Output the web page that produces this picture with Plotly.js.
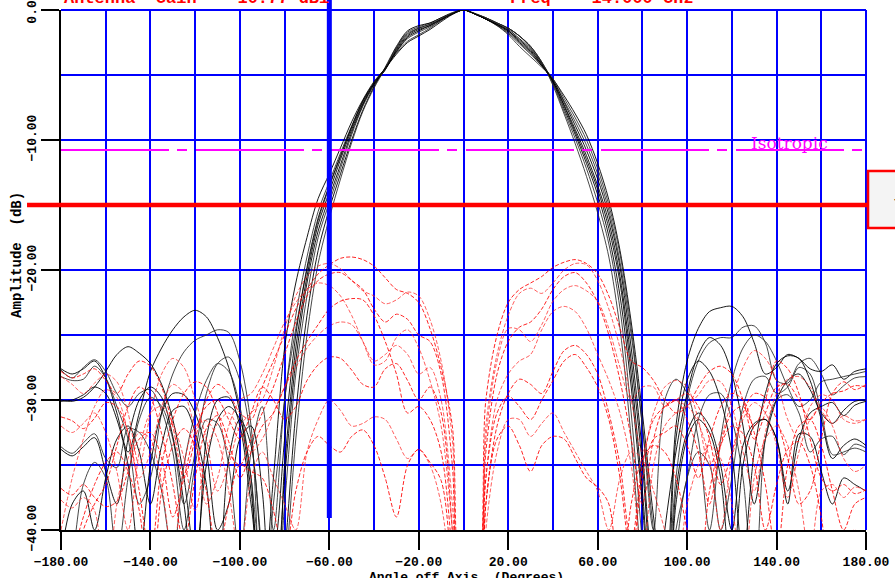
<!DOCTYPE html>
<html>
<head>
<meta charset="utf-8">
<script src="https://cdn.plot.ly/plotly-3.0.1.min.js"></script>
<style>html,body{margin:0;padding:0;background:#fff;overflow:hidden}</style>
</head>
<body>
<div id="chart" style="width:895px;height:578px"></div>
<script>
// Azimuth cut angles (degrees off boresight)
const angles = [-180,-175,-170,-165,-160,-155,-150,-145,-140,-135,-130,-125,-120,-115,-110,-105,-100,-95,-90,-85,-80,-75,-70,-65,-60,-55,-50,-45,-40,-35,-30,-25,-20,-15,-10,-5,0,5,10,15,20,25,30,35,40,45,50,55,60,65,70,75,80,85,90,95,100,105,110,115,120,125,130,135,140,145,150,155,160,165,170,175,180];

// Co-polar patterns (dB, normalised to peak)
const coPol1 = [-27.6,-28.0,-27.6,-27.0,-28.3,-31,-34,-31,-27.8,-26.0,-24.6,-23.6,-23.1,-23.6,-25.2,-27.5,-31,-37,-45, -36,-26,-21,-17.5,-14.5,-12.6,-10.6,-8.6,-6.9,-5.5,-4.5,-3.4,-2.5,-2.0,-1.5,-0.9,-0.35, 0, -0.3,-0.7,-1.1,-1.6,-2.4,-3.2,-4.2, -5.3,-6.6,-8.0,-9.6,-11.8,-14.6,-18.5,-24,-31,-39, -45,-32,-27,-24.5,-23.2,-22.9,-22.8,-23.6,-25.6,-28,-27.5,-26.5,-26.8,-27.6,-27.8,-27.3,-28.4,-27.8,-27.6];
const coPol2 = [-28.2,-28.5,-28.4,-27.4,-28.3,-30.5,-33,-38,-36,-31,-28,-26.3,-25.4,-25,-24.6,-24.8,-27,-32,-46, -38,-30,-23.5,-19,-15.5,-13.2,-11,-8.9,-7.0,-5.6,-4.5,-3.2,-2.2,-1.7,-1.3,-0.8,-0.3, 0, -0.3,-0.7,-1.2,-1.8,-2.6,-3.4,-4.3, -5.4,-7.0,-8.6,-10.4,-12.6,-15.4,-19.4,-25,-32,-40, -46,-36,-30,-27,-25.6,-25.2,-25.2,-24.4,-24.3,-25.6,-28.5,-28.7,-27.2,-26.8,-28,-29.6,-28.9,-28.3,-28.2];
const coPol3 = [-30.0,-30.1,-29.8,-29.0,-27.8,-26.5,-25.9,-26.4,-27.2,-28.8,-31.5,-36,-42,-35,-31.5,-30.5,-31.5,-36,-45, -45,-35,-26,-20.5,-16.5,-14,-11.5,-9.2,-7.2,-5.7,-4.6,-3.0,-1.9,-1.4,-1.1,-0.7,-0.3, 0, -0.3,-0.7,-1.1,-1.5,-2.2,-3.0,-4.1, -5.6,-7.6,-9.6,-11.8,-14.2,-17.4,-22,-29,-38,-48, -40,-34,-29.5,-26.5,-25.2,-25.8,-28,-32,-38,-33,-30,-28.5,-28,-29.2,-31,-31.8,-30.8,-30.1,-30];
const coPol4 = [-33.6,-34.1,-33.3,-32.6,-34.5,-35.2,-32.2,-32.5,-34,-37,-42,-35,-31,-28.5,-27.2,-27.8,-30.5,-36,-44, -48,-38,-28,-22,-17.5,-14.8,-12.2,-9.6,-7.4,-5.8,-4.5,-2.9,-1.7,-1.3,-1.0,-0.6,-0.25, 0, -0.3,-0.6,-1.0,-1.4,-2.0,-2.9,-4.1, -5.7,-7.8,-9.9,-12.2,-14.8,-18,-23,-31,-41,-50, -48,-40,-36,-31.5,-29.6,-29.5,-31.5,-36,-45,-33,-30,-29.6,-31,-34,-33,-32.8,-34.2,-33.4,-33.7];
const coPol5 = [-30.1,-30.0,-29.6,-29.0,-29.5,-31.5,-35,-42,-35,-31,-29.5,-29.6,-31,-34,-40,-38,-33,-32,-37, -50,-42,-31,-23.5,-18.5,-15.3,-12.6,-10,-7.7,-5.9,-4.4,-2.8,-1.6,-1.2,-1.0,-0.6,-0.2, 0, -0.25,-0.6,-1.0,-1.4,-2.0,-2.8,-4.0, -5.5,-7.3,-9.2,-11.2,-13.5,-16.3,-20.5,-27,-35,-45, -48,-38,-33,-31.5,-32.5,-36,-44,-35,-32,-31.5,-33,-37,-33,-31,-30.5,-30.2,-31.2,-30.4,-30.1];
const coPol6 = [-27.7,-28.3,-27.5,-26.9,-27.8,-29.5,-30.5,-29.5,-29.2,-30.8,-34,-40,-35,-31.5,-31.8,-35,-42,-34,-30.5, -40,-30,-24.5,-20,-16.2,-13.6,-11.3,-9,-7.1,-5.6,-4.5,-3.3,-2.4,-1.9,-1.4,-0.8,-0.3, 0, -0.3,-0.7,-1.2,-1.9,-2.8,-3.6,-4.4, -5.3,-6.8,-8.3,-10,-12.2,-15,-18.8,-24.5,-32,-40, -30,-28.4,-29.5,-33,-40,-33,-28.5,-26,-25,-25.5,-27,-29,-30.5,-30,-28.6,-28.4,-28.2,-28.0,-27.8];
const coPol7 = [-42,-38,-37,-40,-36,-33,-32,-34,-38,-33.5,-30.8,-30.5,-32.5,-36.5,-45,-34.5,-31.5,-33.5,-42, -46,-36,-27,-21,-17,-14.4,-11.9,-9.4,-7.3,-5.7,-4.6,-3.1,-2.0,-1.5,-1.2,-0.7,-0.3, 0, -0.3,-0.7,-1.1,-1.6,-2.3,-3.1,-4.2, -5.5,-7.4,-9.4,-11.5,-13.8,-16.8,-21,-28,-37,-47, -50,-37,-32.5,-31,-32,-35,-40,-33.5,-31.8,-31.5,-33,-38,-32.6,-32.8,-35.5,-38,-36,-36.5,-37];
const coPol8 = [-45,-42,-36.5,-34.8,-36,-42,-36,-31.5,-29.8,-30.5,-33,-38,-34,-29.5,-27.2,-26.7,-28.5,-33,-42, -52,-44,-33,-25,-19.5,-16,-13,-10.2,-7.8,-6.0,-4.5,-2.9,-1.8,-1.4,-1.1,-0.7,-0.3, 0, -0.3,-0.6,-1.0,-1.4,-2.0,-2.8,-4.0, -5.8,-8.0,-10.3,-12.8,-15.6,-19,-24.5,-33,-44,-55, -55,-42,-36,-34,-35,-40,-36,-30.5,-28.4,-28.2,-29.5,-29,-27.5,-28,-31,-34.2,-34,-33.7,-34];
const coPol9 = [-33.8,-34.3,-33.6,-32.9,-35.5,-38,-33,-30,-29,-29.8,-32.8,-38,-45,-33,-30,-29.8,-32,-38,-44, -42,-33,-25,-19.8,-16,-13.5,-11.2,-9.0,-7.0,-5.6,-4.5,-3.2,-2.1,-1.6,-1.2,-0.75,-0.3, 0, -0.3,-0.7,-1.15,-1.7,-2.5,-3.3,-4.3, -5.4,-7.1,-8.9,-10.8,-13,-15.8,-19.8,-26,-34,-43, -45,-33,-28.5,-27,-27.8,-30,-34,-42,-34,-29.5,-27.2,-26.6,-26.8,-28.5,-31.5,-34.5,-33.5,-33,-33.5];

// Cross-polar patterns (dB, relative to co-polar peak)
const crossPol1 = [-27.8,-28.3,-28.0,-27.6,-28.5,-29.5,-28,-27,-27.4,-29,-32,-36,-33,-30,-28.8,-29.5,-31,-31.5, -29,-27,-25,-23,-21.5,-20.3,-19.6,-19.1,-19.0,-19.2,-19.7,-20.6,-21.5,-21.8,-22.5,-24.5,-27.5,-32, -45, -45,-30,-25,-22.5,-21.5,-21,-20.5,-19.8,-19.4,-19.2,-19.5,-20.3,-22,-24.5,-27,-27.5,-28.5,-30, -31,-30.5,-29,-27.8,-27.4,-28,-30,-33,-31,-29,-28.8,-30,-31.5,-30.2,-29.5,-29.3,-28.9,-29];
const crossPol2 = [-28.2,-28.8,-29.5,-28.7,-28,-28.6,-31,-35,-31,-28,-26.8,-27.5,-30,-33,-37,-35,-32,-31, -30,-27.5,-24.5,-22,-20.5,-19.7,-19.5,-19.9,-20.8,-21.6,-22,-22.6,-22.3,-21.7,-22,-23.8,-27,-33, -48, -48,-32,-26.5,-23.5,-21.8,-21.4,-21.8,-21,-20,-19.5,-19.6,-20.8,-23,-26,-30,-34,-31,-29, -28.5,-29,-31.5,-35,-33,-30,-27.5,-26.2,-26.8,-28.5,-31.5,-33,-30.5,-29.6,-30,-31.5,-31.8,-31.5];
const crossPol3 = [-31.3,-31.6,-32.2,-31.4,-30.2,-30.5,-32.5,-37,-42,-35,-31.5,-29.5,-28.6,-29,-31,-34,-35,-33, -31,-29,-26.5,-24,-22,-20.8,-20.3,-20.2,-20.8,-21.5,-23,-24,-23.4,-23.8,-25,-25.5,-28,-35, -50, -50,-34,-28,-25.5,-24.4,-24,-23,-21.5,-20.5,-20.2,-21,-22.5,-25,-28.5,-33,-38,-33,-30.5, -30,-31.5,-34,-38,-33.5,-31,-30.5,-32,-30,-27,-27.6,-29.5,-33,-36,-37,-36.5,-37.2,-36.9];
const crossPol4 = [-32,-32.5,-31.8,-31,-32.5,-35.5,-40,-34,-31,-30.5,-31.8,-34.5,-38.5,-34,-31.8,-31,-32.5,-34, -33,-31,-29,-27.5,-26,-25,-24.3,-24,-24.2,-25.5,-27,-26.5,-25.8,-26.5,-28,-27.5,-30,-38, -50, -50,-36,-30,-28,-27,-26.5,-24.6,-23.2,-22.8,-23.2,-24.5,-26.5,-28.5,-31,-35,-42,-35,-32, -31,-30.5,-31.8,-34.5,-40,-34.5,-31.5,-30.2,-31,-33.5,-37.5,-34,-31.5,-30.6,-32,-34.5,-35.5,-35];
const crossPol5 = [-36.8,-37.3,-36.5,-37.5,-38.2,-37.8,-35.5,-33,-32.5,-34.5,-39,-36,-32.4,-30.5,-30,-31.5,-33,-31, -29,-30,-31.5,-30.5,-28.5,-27.3,-26.7,-26.8,-27.7,-28.8,-29,-27.6,-27.2,-28.5,-30,-29,-31,-40, -55, -52,-36,-31,-29.7,-30.5,-31.5,-30,-28.5,-27,-26.5,-27.5,-29,-31.5,-36,-42,-36,-33,-32.5, -32,-33.5,-36,-33,-30.5,-29.5,-30,-32.5,-36.5,-42,-35,-32,-31.5,-33.5,-37,-40,-38,-37.5];
const crossPol6 = [-37.7,-38.3,-37.5,-38.5,-45,-38,-34.5,-32.5,-33,-36.5,-42,-35,-32,-31.6,-33,-37,-42,-36, -34,-36,-38,-40,-34,-31.5,-30,-30.8,-32,-31.8,-31.3,-31.5,-33,-34.5,-33.8,-35,-38,-45, -55, -55,-40,-34,-31.5,-31.5,-32.8,-31.8,-31,-32.5,-34,-35.5,-37,-40,-36,-34,-34.5,-37,-40, -43,-38,-35,-33.5,-34.5,-38,-44,-36,-33,-32,-33.5,-37,-42,-37,-36.5,-37.5,-36.7,-37];
const crossPol7 = [-45,-42,-39,-36.5,-34.8,-34,-35.5,-38.5,-45,-37,-33.5,-32.2,-33.5,-37,-42,-38,-35,-35.5, -36,-38.5,-42,-37,-34,-32.8,-33.5,-34,-32.8,-32.3,-33.5,-36,-39,-35,-33.8,-34.8,-36.2,-44, -55, -55,-38,-33,-32,-33.5,-35.5,-33.5,-32.8,-33,-34.5,-36,-36.7,-38,-45,-38,-34.5,-33.5,-34, -36,-40,-44,-37,-33.5,-32,-32.6,-35,-40,-36.5,-33.8,-33.2,-35,-39,-45,-41,-40,-42];
const crossPol8 = [-40,-36,-33,-30.5,-29.2,-29.8,-32.5,-36,-34,-30.5,-28.8,-29.5,-32.5,-38,-36,-32,-30,-29.5, -28,-26,-24,-22.5,-21.5,-21,-21.2,-22,-23.5,-25.5,-27.3,-27,-25.2,-24.6,-26,-28.5,-32,-40, -52, -52,-33,-27,-24.5,-24.6,-25.5,-24.2,-22.4,-21.5,-21.2,-21.6,-22.4,-24.5,-27.5,-30,-29,-29,-30.5, -30,-30.4,-29.6,-28.5,-28.6,-30.5,-34,-37,-32.5,-29.5,-28.4,-28.2,-29,-30.8,-31.8,-31.2,-31.6,-31.5];
const crossPol9 = [-48,-44,-40,-38,-36.5,-33.5,-30.5,-29,-29.8,-32.6,-36.5,-41,-36,-32.2,-31.2,-33.2,-36,-34, -32,-31,-29,-27,-25.5,-24.2,-23,-22.4,-22.2,-22.3,-23.5,-25.5,-28,-31,-30.5,-31.5,-34,-42, -55, -55,-38,-32,-29.5,-28.4,-28.8,-29.5,-27.8,-26.2,-25.8,-26.5,-28,-31,-35,-41,-35,-31.5,-30.5, -30,-29.5,-30.5,-33,-36.5,-34,-31,-29.5,-29.8,-31.5,-34.5,-38,-37,-33,-29.5,-28.6,-29.2,-28.8];

// Axis ticks
const xTickVals = [-180,-140,-100,-60,-20,20,60,100,140,180];
const xTickText = ['\u2212180.00','\u2212140.00','\u2212100.00','\u221260.00','\u221220.00','20.00','60.00','100.00','140.00','180.00'];
const yTickVals = [0,-10,-20,-30,-40];
const yTickText = ['0.00','\u221210.00','\u221220.00','\u221230.00','\u221240.00'];

// Measurement annotations
const antennaGainDbi = 10.77;
const frequencyGHz = '14.000';
const isotropicLevel = -10.77;
const cursorAngle = -60;
const thresholdLevel = -15;
const thresholdLabel = '\u221215.00 dB';

const monoFont = 'Liberation Mono, DejaVu Sans Mono, monospace';

const traces = [];
[coPol1, coPol2, coPol3, coPol4, coPol5, coPol6, coPol7, coPol8, coPol9].forEach((v, i) => {
  traces.push({
    x: angles, y: v, type: 'scatter', mode: 'lines', hoverinfo: 'skip',
    line: {color: i % 2 ? 'rgba(40,40,40,0.85)' : 'rgba(0,0,0,0.9)', width: 1, shape: 'spline', smoothing: 0.9}
  });
});
[crossPol1, crossPol2, crossPol3, crossPol4, crossPol5, crossPol6, crossPol7, crossPol8, crossPol9].forEach((v, i) => {
  traces.push({
    x: angles, y: v, type: 'scatter', mode: 'lines', hoverinfo: 'skip',
    line: {color: i % 2 ? 'rgba(255,40,40,0.75)' : 'rgba(255,0,0,0.85)', width: 1, dash: '4px,2px', shape: 'spline', smoothing: 0.9}
  });
});

const tickFont = {family: monoFont, size: 13, color: '#000', weight: 'bold'};
const blue = '#0000ff';

const layout = {
  width: 895, height: 578,
  margin: {l: 61, r: 29, t: 10, b: 48},
  paper_bgcolor: '#fff', plot_bgcolor: '#fff',
  showlegend: false,
  xaxis: {
    range: [-180, 180], tickmode: 'array', tickvals: xTickVals, ticktext: xTickText,
    ticks: 'outside', ticklen: 18, tickwidth: 2, tickcolor: '#000',
    showline: true, linecolor: '#000', linewidth: 2, zeroline: false,
    showgrid: true, gridcolor: blue, gridwidth: 2, ticklabeloverflow: 'allow',
    minor: {tick0: -180, dtick: 20, showgrid: true, gridcolor: blue, gridwidth: 2, ticks: ''},
    tickfont: tickFont, fixedrange: true
  },
  yaxis: {
    range: [-40, 0], tickmode: 'array', tickvals: yTickVals, ticktext: yTickText, tickangle: -90,
    ticks: 'outside', ticklen: 18, tickwidth: 2, tickcolor: '#000',
    showline: true, linecolor: '#000', linewidth: 2, zeroline: false,
    showgrid: true, gridcolor: blue, gridwidth: 2, ticklabeloverflow: 'allow',
    minor: {tick0: 0, dtick: 5, showgrid: true, gridcolor: blue, gridwidth: 2, ticks: ''},
    tickfont: tickFont, fixedrange: true
  },
  shapes: [
    // frame top and right
    {type: 'line', xref: 'paper', yref: 'paper', x0: 0, x1: 1, y0: 1, y1: 1, line: {color: blue, width: 2}, layer: 'below'},
    {type: 'line', xref: 'paper', yref: 'paper', x0: 1, x1: 1, y0: 0, y1: 1, line: {color: blue, width: 2}, layer: 'below'},
    // isotropic reference level
    {type: 'line', xref: 'paper', yref: 'y', x0: 0, x1: 1, y0: isotropicLevel, y1: isotropicLevel,
     line: {color: '#ff00ff', width: 2, dash: '108px,8px,10px,9px'}},
    // threshold level
    {type: 'line', xref: 'paper', yref: 'y', x0: -0.0422, x1: 1.0025, y0: thresholdLevel, y1: thresholdLevel,
     line: {color: '#ff0000', width: 4.5}},
    // angle cursor
    {type: 'line', xref: 'x', yref: 'paper', x0: cursorAngle, x1: cursorAngle, y0: 0.023, y1: 1.03,
     line: {color: blue, width: 5}},
    // threshold readout box
    {type: 'rect', xref: 'paper', yref: 'paper', x0: 1.0025, x1: 1.05, y0: 0.5808, y1: 0.6904,
     line: {color: '#ff0000', width: 2.5}, fillcolor: '#f4f4f4'}
  ],
  annotations: [
    {xref: 'paper', yref: 'paper', x: 0.001, y: 1.023, xanchor: 'left', yanchor: 'middle', showarrow: false,
     text: 'Antenna  Gain  = ' + antennaGainDbi.toFixed(2) + ' dBi', font: {family: monoFont, size: 17, color: '#ff0000', weight: 'bold'}},
    {xref: 'paper', yref: 'paper', x: 0.555, y: 1.023, xanchor: 'left', yanchor: 'middle', showarrow: false,
     text: 'Freq  = ' + frequencyGHz + ' GHz', font: {family: monoFont, size: 17, color: '#ff0000', weight: 'bold'}},
    {xref: 'x', yref: 'y', x: 146, y: -10.2, xanchor: 'center', yanchor: 'middle', showarrow: false,
     text: 'Isotropic', font: {family: 'DejaVu Serif, serif', size: 17, color: '#ff00ff'}},
    {xref: 'paper', yref: 'paper', x: 0.504, y: -0.073, xanchor: 'center', yanchor: 'top', showarrow: false,
     text: 'Angle off Axis  (Degrees)', font: {family: monoFont, size: 13, color: '#000', weight: 'bold'}},
    {xref: 'paper', yref: 'paper', x: -0.0547, y: 0.529, xanchor: 'center', yanchor: 'middle', showarrow: false, textangle: -90,
     text: 'Amplitude  (dB)', font: {family: monoFont, size: 14, color: '#000', weight: 'bold'}},
    {xref: 'paper', yref: 'paper', x: 1.032, y: 0.6327, xanchor: 'left', yanchor: 'middle', showarrow: false,
     text: thresholdLabel, font: {family: monoFont, size: 13, color: '#000', weight: 'bold'}}
  ]
};

Plotly.newPlot('chart', traces, layout, {staticPlot: true, displayModeBar: false});
</script>
</body>
</html>
